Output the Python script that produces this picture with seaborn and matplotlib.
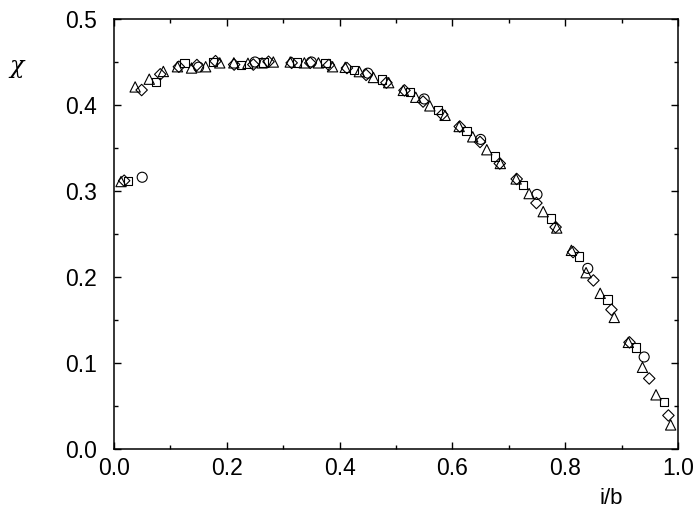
import matplotlib
matplotlib.use("Agg")
import matplotlib.pyplot as plt
import seaborn as sns
import pandas as pd
from matplotlib.ticker import MultipleLocator

# circles
circ_x = [0.05, 0.15, 0.25, 0.35, 0.45, 0.55, 0.65, 0.75, 0.84, 0.94]
circ_y = [0.316, 0.444, 0.450, 0.450, 0.437, 0.407, 0.360, 0.296, 0.210, 0.107]

# squares
sq_x = [0.025, 0.075, 0.125, 0.175, 0.225, 0.265, 0.325, 0.375, 0.425, 0.475,
        0.525, 0.575, 0.625, 0.675, 0.725, 0.775, 0.825, 0.875, 0.925, 0.975]
sq_y = [0.312, 0.427, 0.4485, 0.450, 0.4465, 0.4496, 0.4496, 0.4485, 0.4407, 0.4298,
        0.415, 0.394, 0.370, 0.340, 0.307, 0.268, 0.224, 0.174, 0.118, 0.055]

# diamonds
dia_x = [0.018, 0.049, 0.082, 0.115, 0.147, 0.180, 0.213, 0.247, 0.274, 0.315,
         0.348, 0.381, 0.413, 0.447, 0.483, 0.515, 0.548, 0.582, 0.613, 0.649,
         0.684, 0.714, 0.749, 0.783, 0.814, 0.850, 0.882, 0.914, 0.949, 0.983]
dia_y = [0.312, 0.4174, 0.4357, 0.4445, 0.4465, 0.451, 0.447, 0.447, 0.4503, 0.449,
         0.449, 0.4465, 0.443, 0.435, 0.426, 0.417, 0.404, 0.389, 0.375, 0.357,
         0.332, 0.314, 0.286, 0.258, 0.229, 0.196, 0.162, 0.124, 0.082, 0.039]

# triangles
tri_x = [0.0125, 0.0375, 0.0625, 0.0875, 0.1125, 0.1375, 0.1625, 0.1875, 0.2125, 0.2375,
         0.2625, 0.2825, 0.3125, 0.3375, 0.3625, 0.3875, 0.4100, 0.4350, 0.4600, 0.4870,
         0.5130, 0.5350, 0.5600, 0.5870, 0.6120, 0.6360, 0.6610, 0.6850, 0.7130, 0.7360,
         0.7610, 0.7850, 0.8110, 0.8370, 0.8620, 0.8870, 0.9120, 0.9370, 0.9610, 0.9870]
tri_y = [0.311, 0.421, 0.430, 0.439, 0.4445, 0.443, 0.4445, 0.449, 0.449, 0.4485,
         0.449, 0.450, 0.450, 0.449, 0.449, 0.4445, 0.4438, 0.4388, 0.432, 0.426,
         0.417, 0.409, 0.399, 0.388, 0.375, 0.363, 0.348, 0.332, 0.314, 0.297,
         0.276, 0.257, 0.231, 0.205, 0.181, 0.153, 0.124, 0.095, 0.063, 0.028]

x_ticks = [0.0, 0.2, 0.4, 0.6, 0.8, 1.0]
y_ticks = [0.0, 0.1, 0.2, 0.3, 0.4, 0.5]

sns.set_style("ticks")
plt.rcParams['font.family'] = ['Liberation Sans', 'DejaVu Sans']
plt.rcParams['text.color'] = 'black'

fig = plt.figure(figsize=(6.97, 5.12), dpi=100)
ax = fig.add_axes([114/697, 1 - 449/512, (678 - 114)/697, (449 - 19)/512])

series = [
    (circ_x, circ_y, 'o', 52),
    (sq_x, sq_y, 's', 36),
    (dia_x, dia_y, 'D', 34),
    (tri_x, tri_y, '^', 55),
]
for xs, ys, m, s in series:
    df = pd.DataFrame({'x': xs, 'y': ys})
    sns.scatterplot(data=df, x='x', y='y', marker=m, s=s, facecolor='none',
                    edgecolor='black', linewidth=0.8, ax=ax, legend=False, zorder=3)

ax.set_xlim(0, 1)
ax.set_ylim(0, 0.5)
ax.set_xticks(x_ticks)
ax.set_yticks(y_ticks)
ax.set_xticklabels([f"{v:.1f}" for v in x_ticks])
ax.set_yticklabels([f"{v:.1f}" for v in y_ticks])
ax.xaxis.set_minor_locator(MultipleLocator(0.1))
ax.yaxis.set_minor_locator(MultipleLocator(0.05))
ax.tick_params(which='both', direction='in', top=True, right=True, width=1,
               color='black', labelcolor='black')
ax.tick_params(which='major', length=5, labelsize=16.5)
ax.tick_params(axis='x', which='major', pad=6)
ax.tick_params(axis='y', which='major', pad=12)
ax.tick_params(which='minor', length=3)
for sp in ax.spines.values():
    sp.set_linewidth(1.1)
    sp.set_color('black')
ax.set_xlabel('')
ax.set_ylabel('')

fig.text(17/697, 1 - 67/512, 'χ', fontsize=17, family=['DejaVu Serif'], ha='center',
         va='center', style='italic', color='black')
fig.text(611/697, 1 - 499/512, 'i/b', fontsize=16, ha='center', va='center', color='black')

fig.savefig('out.png', dpi=100)
